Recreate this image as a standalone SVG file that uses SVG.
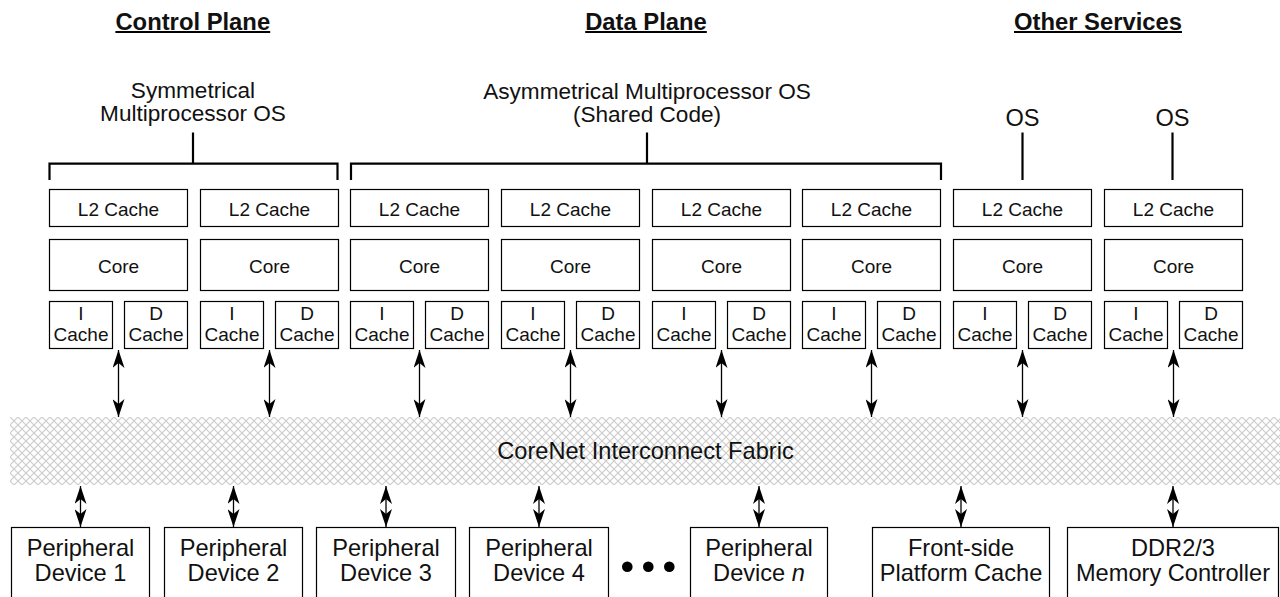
<svg xmlns="http://www.w3.org/2000/svg" width="1280" height="597" viewBox="0 0 1280 597">
<style>
text{font-family:"Liberation Sans",Arial,Helvetica,sans-serif;fill:#111;text-anchor:middle}
.h{font-size:23.8px;font-weight:bold}
.t{font-size:23.6px}
.o{font-size:22.6px}
.s{font-size:19px}
.box{fill:#fff;stroke:#000;stroke-width:1.2}
.br{fill:none;stroke:#000;stroke-width:2.2}
.ul{stroke:#000;stroke-width:2}
.ar{stroke:#000;stroke-width:1.3;fill:none;marker-start:url(#ah);marker-end:url(#ah)}
</style>
<defs>
<marker id="ah" viewBox="0 0 18 12" refX="18" refY="6" markerWidth="18" markerHeight="12" orient="auto-start-reverse" markerUnits="userSpaceOnUse">
<path d="M18,6 L0,0 L5,6 L0,12 Z" fill="#000"/>
</marker>
<pattern id="hatch" width="8" height="8" patternUnits="userSpaceOnUse" x="10" y="417">
<rect width="8" height="8" fill="#fff"/>
<path d="M0,0 L8,8 M8,0 L0,8" stroke="#cdcdcd" stroke-width="1.2"/>
</pattern>
</defs>
<rect width="1280" height="597" fill="#fff"/>

<g id="headers">
<text class="h" x="192.8" y="30">Control Plane</text>
<line class="ul" x1="115.4" y1="32" x2="270.2" y2="32"/>
<text class="h" x="646" y="30">Data Plane</text>
<line class="ul" x1="585.2" y1="32" x2="706.8" y2="32"/>
<text class="h" x="1098" y="30">Other Services</text>
<line class="ul" x1="1014" y1="32" x2="1182" y2="32"/>
</g>

<g id="smp-os">
<text class="o" x="193" y="98">Symmetrical</text>
<text class="o" x="193" y="121">Multiprocessor OS</text>
<path class="br" d="M193,132.5 V163.7 M49.5,180 V163.7 H337.5 V180"/>
</g>
<g id="amp-os">
<text class="o" x="647" y="98.5">Asymmetrical Multiprocessor OS</text>
<text class="o" x="647" y="121.5">(Shared Code)</text>
<path class="br" d="M647,132.5 V163.7 M351,180 V163.7 H941 V180"/>
</g>
<g id="os-1">
<text class="t" x="1022.5" y="126">OS</text>
<line class="br" x1="1022.5" y1="132.5" x2="1022.5" y2="180"/>
</g>
<g id="os-2">
<text class="t" x="1172.5" y="126">OS</text>
<line class="br" x1="1172.5" y1="132.5" x2="1172.5" y2="180"/>
</g>

<g id="core-1">
<rect class="box" x="49.5" y="189.5" width="138" height="37"/><text class="s" x="118.5" y="216">L2 Cache</text>
<rect class="box" x="49.5" y="239.5" width="138" height="51"/><text class="s" x="118.5" y="272.5">Core</text>
<rect class="box" x="49.5" y="301.5" width="63" height="47"/><text class="s" x="81" y="319.5">I</text><text class="s" x="81" y="341">Cache</text>
<rect class="box" x="124.5" y="301.5" width="63" height="47"/><text class="s" x="156" y="319.5">D</text><text class="s" x="156" y="341">Cache</text>
</g>
<g id="core-2">
<rect class="box" x="200.5" y="189.5" width="138" height="37"/><text class="s" x="269.5" y="216">L2 Cache</text>
<rect class="box" x="200.5" y="239.5" width="138" height="51"/><text class="s" x="269.5" y="272.5">Core</text>
<rect class="box" x="200.5" y="301.5" width="63" height="47"/><text class="s" x="232" y="319.5">I</text><text class="s" x="232" y="341">Cache</text>
<rect class="box" x="275.5" y="301.5" width="63" height="47"/><text class="s" x="307" y="319.5">D</text><text class="s" x="307" y="341">Cache</text>
</g>
<g id="core-3">
<rect class="box" x="350.5" y="189.5" width="138" height="37"/><text class="s" x="419.5" y="216">L2 Cache</text>
<rect class="box" x="350.5" y="239.5" width="138" height="51"/><text class="s" x="419.5" y="272.5">Core</text>
<rect class="box" x="350.5" y="301.5" width="63" height="47"/><text class="s" x="382" y="319.5">I</text><text class="s" x="382" y="341">Cache</text>
<rect class="box" x="425.5" y="301.5" width="63" height="47"/><text class="s" x="457" y="319.5">D</text><text class="s" x="457" y="341">Cache</text>
</g>
<g id="core-4">
<rect class="box" x="501.5" y="189.5" width="138" height="37"/><text class="s" x="570.5" y="216">L2 Cache</text>
<rect class="box" x="501.5" y="239.5" width="138" height="51"/><text class="s" x="570.5" y="272.5">Core</text>
<rect class="box" x="501.5" y="301.5" width="63" height="47"/><text class="s" x="533" y="319.5">I</text><text class="s" x="533" y="341">Cache</text>
<rect class="box" x="576.5" y="301.5" width="63" height="47"/><text class="s" x="608" y="319.5">D</text><text class="s" x="608" y="341">Cache</text>
</g>
<g id="core-5">
<rect class="box" x="652.5" y="189.5" width="138" height="37"/><text class="s" x="721.5" y="216">L2 Cache</text>
<rect class="box" x="652.5" y="239.5" width="138" height="51"/><text class="s" x="721.5" y="272.5">Core</text>
<rect class="box" x="652.5" y="301.5" width="63" height="47"/><text class="s" x="684" y="319.5">I</text><text class="s" x="684" y="341">Cache</text>
<rect class="box" x="727.5" y="301.5" width="63" height="47"/><text class="s" x="759" y="319.5">D</text><text class="s" x="759" y="341">Cache</text>
</g>
<g id="core-6">
<rect class="box" x="802.5" y="189.5" width="138" height="37"/><text class="s" x="871.5" y="216">L2 Cache</text>
<rect class="box" x="802.5" y="239.5" width="138" height="51"/><text class="s" x="871.5" y="272.5">Core</text>
<rect class="box" x="802.5" y="301.5" width="63" height="47"/><text class="s" x="834" y="319.5">I</text><text class="s" x="834" y="341">Cache</text>
<rect class="box" x="877.5" y="301.5" width="63" height="47"/><text class="s" x="909" y="319.5">D</text><text class="s" x="909" y="341">Cache</text>
</g>
<g id="core-7">
<rect class="box" x="953.5" y="189.5" width="138" height="37"/><text class="s" x="1022.5" y="216">L2 Cache</text>
<rect class="box" x="953.5" y="239.5" width="138" height="51"/><text class="s" x="1022.5" y="272.5">Core</text>
<rect class="box" x="953.5" y="301.5" width="63" height="47"/><text class="s" x="985" y="319.5">I</text><text class="s" x="985" y="341">Cache</text>
<rect class="box" x="1028.5" y="301.5" width="63" height="47"/><text class="s" x="1060" y="319.5">D</text><text class="s" x="1060" y="341">Cache</text>
</g>
<g id="core-8">
<rect class="box" x="1104.5" y="189.5" width="138" height="37"/><text class="s" x="1173.5" y="216">L2 Cache</text>
<rect class="box" x="1104.5" y="239.5" width="138" height="51"/><text class="s" x="1173.5" y="272.5">Core</text>
<rect class="box" x="1104.5" y="301.5" width="63" height="47"/><text class="s" x="1136" y="319.5">I</text><text class="s" x="1136" y="341">Cache</text>
<rect class="box" x="1179.5" y="301.5" width="63" height="47"/><text class="s" x="1211" y="319.5">D</text><text class="s" x="1211" y="341">Cache</text>
</g>

<g id="fabric">
<rect x="10" y="417" width="1270" height="68" fill="url(#hatch)"/>
<text class="t" x="645.5" y="459.3">CoreNet Interconnect Fabric</text>
</g>

<g id="connectors">
<line class="ar" x1="118.5" y1="350" x2="118.5" y2="417"/>
<line class="ar" x1="269.5" y1="350" x2="269.5" y2="417"/>
<line class="ar" x1="419.5" y1="350" x2="419.5" y2="417"/>
<line class="ar" x1="570.5" y1="350" x2="570.5" y2="417"/>
<line class="ar" x1="721.5" y1="350" x2="721.5" y2="417"/>
<line class="ar" x1="871.5" y1="350" x2="871.5" y2="417"/>
<line class="ar" x1="1022.5" y1="350" x2="1022.5" y2="417"/>
<line class="ar" x1="1173.5" y1="350" x2="1173.5" y2="417"/>
<line class="ar" x1="80.5" y1="486" x2="80.5" y2="527"/>
<line class="ar" x1="233.5" y1="486" x2="233.5" y2="527"/>
<line class="ar" x1="386" y1="486" x2="386" y2="527"/>
<line class="ar" x1="539" y1="486" x2="539" y2="527"/>
<line class="ar" x1="759" y1="486" x2="759" y2="527"/>
<line class="ar" x1="961" y1="486" x2="961" y2="527"/>
<line class="ar" x1="1173" y1="486" x2="1173" y2="527"/>
</g>

<g id="periph-1">
<rect class="box" x="11.5" y="527.5" width="138" height="80"/>
<text class="t" x="80.5" y="556">Peripheral</text><text class="t" x="80.5" y="581">Device 1</text>
</g>
<g id="periph-2">
<rect class="box" x="164.5" y="527.5" width="138" height="80"/>
<text class="t" x="233.5" y="556">Peripheral</text><text class="t" x="233.5" y="581">Device 2</text>
</g>
<g id="periph-3">
<rect class="box" x="316.5" y="527.5" width="139" height="80"/>
<text class="t" x="386" y="556">Peripheral</text><text class="t" x="386" y="581">Device 3</text>
</g>
<g id="periph-4">
<rect class="box" x="469.5" y="527.5" width="139" height="80"/>
<text class="t" x="539" y="556">Peripheral</text><text class="t" x="539" y="581">Device 4</text>
</g>
<g id="ellipsis">
<circle cx="627.3" cy="566.7" r="5.3" fill="#000"/>
<circle cx="648.3" cy="566.7" r="5.3" fill="#000"/>
<circle cx="669.3" cy="566.7" r="5.3" fill="#000"/>
</g>
<g id="periph-n">
<rect class="box" x="690.5" y="527.5" width="137" height="80"/>
<text class="t" x="759" y="556">Peripheral</text><text class="t" x="759" y="581">Device <tspan font-style="italic">n</tspan></text>
</g>
<g id="platform-cache">
<rect class="box" x="872.5" y="527.5" width="177" height="80"/>
<text class="t" x="961" y="556">Front-side</text><text class="t" x="961" y="581">Platform Cache</text>
</g>
<g id="ddr-controller">
<rect class="box" x="1067.5" y="527.5" width="211" height="80"/>
<text class="t" x="1173" y="556">DDR2/3</text><text class="t" x="1173" y="581">Memory Controller</text>
</g>
</svg>
